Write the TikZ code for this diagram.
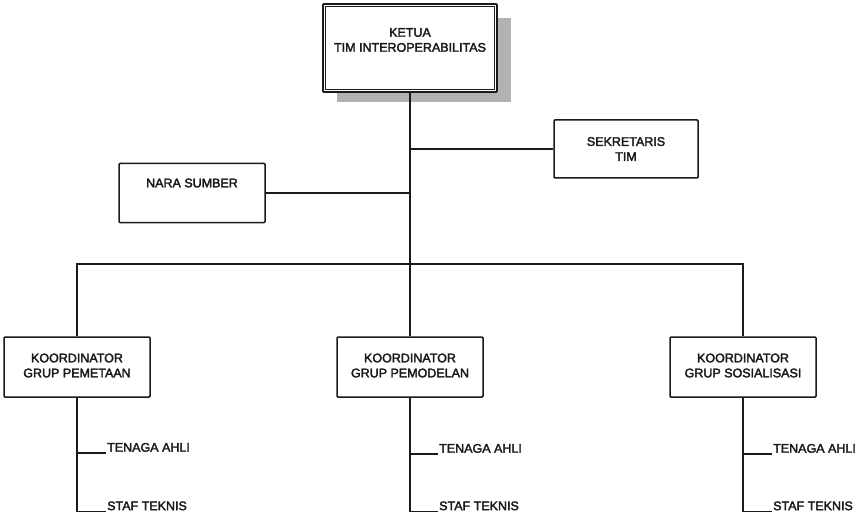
\documentclass[tikz,border=0pt]{standalone}
\usepackage{fontspec}
\setmainfont{Liberation Sans}
\newfontfamily\heavy{Liberation Sans}[FakeBold=2.6]
\usetikzlibrary{calc}
\definecolor{ink}{HTML}{1A1A1A}
\definecolor{shadowgray}{HTML}{B2B2B2}
\tikzset{
  box/.style={draw=ink, line width=1.5pt, rounded corners=1pt, fill=white,
    minimum width=146pt, minimum height=60pt, inner sep=0pt},
  lbl/.style={text=ink, font=\heavy\fontsize{12.5}{15}\selectfont, align=center, inner sep=0pt},
  sub/.style={text=ink, font=\heavy\fontsize{12.5}{15}\selectfont, inner sep=1pt},
  wire/.style={draw=ink, line width=1.7pt},
}
\begin{document}
\begin{tikzpicture}[x=1pt, y=-1pt]
\useasboundingbox (0,0) rectangle (861,513);

% chair with drop shadow and double frame
\fill[shadowgray] (337,18) rectangle (511,102);
\node[box, minimum width=174pt, minimum height=88pt, line width=1.8pt] (ketua) at (410,48) {};
\draw[ink, line width=0.8pt] ($(ketua.north west)+(3.5,3.5)$) rectangle ($(ketua.south east)+(-3.5,-3.5)$);
\node[lbl] (ketuaT) at (410,40) {KETUA\\TIM INTEROPERABILITAS};

% staff boxes
\node[box, minimum width=144pt, minimum height=58pt] (sek) at (626,149) {};
\node[lbl] (sekT) at (626,149) {SEKRETARIS\\TIM};
\node[box, minimum width=146pt, minimum height=59pt] (nara) at (192,193) {};
\node[lbl] (naraT) at (192,183) {NARA SUMBER};

% group coordinators
\node[box] (koorL) at (77,367) {};
\node[lbl] (koorLT) at (77,365.5) {KOORDINATOR\\GRUP PEMETAAN};
\node[box] (koorM) at (410,367) {};
\node[lbl] (koorMT) at (410,365.5) {KOORDINATOR\\GRUP PEMODELAN};
\node[box] (koorR) at (743,367) {};
\node[lbl] (koorRT) at (743,365.5) {KOORDINATOR\\GRUP SOSIALISASI};

% members under each coordinator
\node[sub, anchor=south west] (tenL) at (106,453) {TENAGA AHLI};
\node[sub, anchor=south west] (stafL) at (106,511.5) {STAF TEKNIS};
\node[sub, anchor=south west] (tenM) at (438,454) {TENAGA AHLI};
\node[sub, anchor=south west] (stafM) at (438,511.5) {STAF TEKNIS};
\node[sub, anchor=south west] (tenR) at (772,454) {TENAGA AHLI};
\node[sub, anchor=south west] (stafR) at (772,511.5) {STAF TEKNIS};

\coordinate (hub) at (410,264);

% connectors
\draw[wire] (ketua.south) -- (hub);
\draw[wire] (sek.west) -- (sek.west -| hub);
\draw[wire] (nara.east) -- (nara.east -| hub);
\draw[wire] (koorL.north) |- (hub) -| (koorR.north);
\draw[wire] (koorM.north) -- (hub);

\draw[wire] (koorL.south) |- (stafL.south west);
\draw[wire] (koorL.south |- tenL.south west) -- (tenL.south west);
\draw[wire] (koorM.south) |- (stafM.south west);
\draw[wire] (koorM.south |- tenM.south west) -- (tenM.south west);
\draw[wire] (koorR.south) |- (stafR.south west);
\draw[wire] (koorR.south |- tenR.south west) -- (tenR.south west);
\end{tikzpicture}
\end{document}
